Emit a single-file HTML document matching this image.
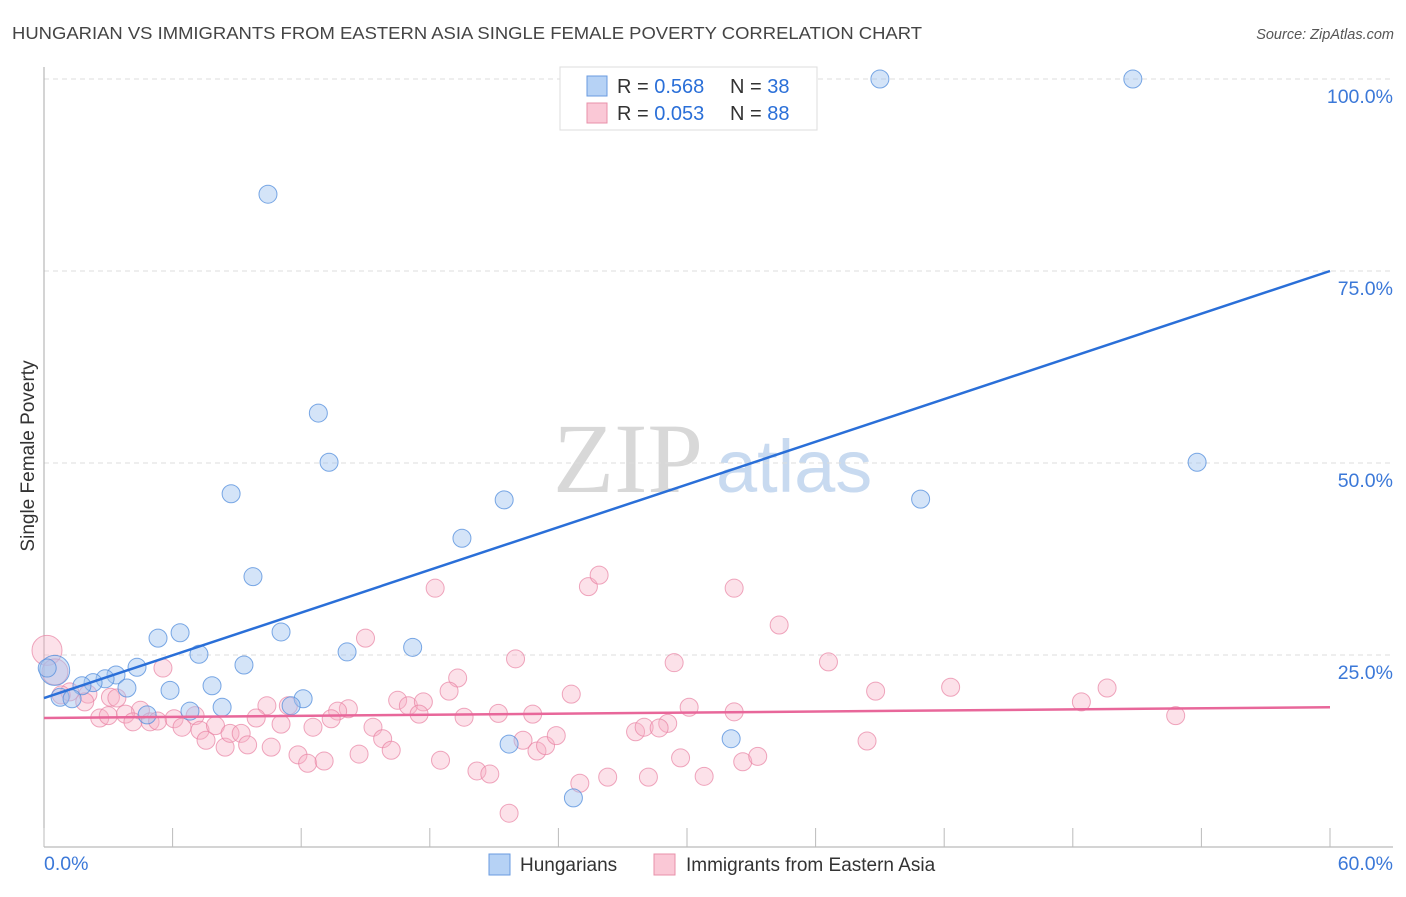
<!DOCTYPE html>
<html><head><meta charset="utf-8"><style>
body{margin:0;background:#fff;font-family:"Liberation Sans",sans-serif}
svg text{font-family:"Liberation Sans",sans-serif}
</style></head><body>
<svg id="chart" width="1406" height="892" viewBox="0 0 1406 892" xmlns="http://www.w3.org/2000/svg">
<text x="12" y="39" font-size="17.5" fill="#444" textLength="910" lengthAdjust="spacingAndGlyphs">HUNGARIAN VS IMMIGRANTS FROM EASTERN ASIA SINGLE FEMALE POVERTY CORRELATION CHART</text>
<text x="1394" y="39" font-size="14.5" fill="#555" text-anchor="end" font-style="italic">Source: ZipAtlas.com</text>
<g>
<text x="553" y="492" font-size="100" fill="#d8d8d8" style="font-family:'Liberation Serif',serif">ZIP</text>
<text x="716" y="492" font-size="74" fill="#c8daf0">atlas</text>
</g>
<g id="grid"></g>
<g id="axes"></g>
<g id="pink"></g>
<g id="blue"></g>
<g id="lines"></g>
<text transform="translate(34,456) rotate(-90)" font-size="19" fill="#333" text-anchor="middle">Single Female Poverty</text>
<g>
<rect x="560" y="67" width="257" height="63" fill="#fff" stroke="#ddd"/>
<rect x="587" y="76" width="20" height="20" fill="#b6d2f5" stroke="#6a9be0"/>
<rect x="587" y="103" width="20" height="20" fill="#fac8d6" stroke="#e890aa"/>
<text x="617" y="93" font-size="20" fill="#333">R = <tspan fill="#2a6fd8">0.568</tspan><tspan x="730">N = </tspan><tspan fill="#2a6fd8">38</tspan></text>
<text x="617" y="120" font-size="20" fill="#333">R = <tspan fill="#2a6fd8">0.053</tspan><tspan x="730">N = </tspan><tspan fill="#2a6fd8">88</tspan></text>
</g>
<g>
<rect x="489" y="854" width="21" height="21" fill="#b6d2f5" stroke="#6a9be0"/>
<text x="520" y="871" font-size="19" fill="#333">Hungarians</text>
<rect x="654" y="854" width="21" height="21" fill="#fac8d6" stroke="#e890aa"/>
<text x="686" y="871" font-size="19" fill="#333">Immigrants from Eastern Asia</text>
</g>
</svg>
<script>
const xTicks=[0,6,12,18,24,30,36,42,48,54,60];
const yTicks=[25,50,75,100];
const blueX=[39.0,50.8,10.45,12.8,13.3,53.8,8.73,21.47,40.9,19.5,9.75,5.32,6.35,11.06,7.23,14.14,17.2,9.33,4.34,3.36,2.85,2.29,1.77,3.87,5.88,7.84,0.75,1.31,12.09,11.53,6.81,8.31,4.81,21.7,32.06,24.7,0.5,0.15];
const blueY=[100,100,85.0,56.5,50.1,50.1,46.0,45.2,45.3,40.2,35.2,27.2,27.9,28.0,25.1,25.4,26.0,23.7,23.4,22.4,21.9,21.4,21.0,20.7,20.4,21.0,19.5,19.3,19.3,18.4,17.7,18.2,17.2,13.4,14.1,6.4,23.0,23.3];
const blueR=[8,8,8,8,8,8,8,8,8,8,8,8,8,8,8,8,8,8,8,8,8,8,8,8,8,8,8,8,8,8,8,8,8,8,8,8,14,8];
const pinkX=[0.14,0.51,18.25,25.4,25.9,32.2,34.3,5.55,15.0,22.0,29.4,36.6,19.3,18.9,24.6,42.3,38.8,49.6,48.4,52.8,11.4,10.4,14.2,13.7,16.5,17.0,17.7,17.5,19.6,21.2,22.8,30.1,32.2,29.1,27.6,28.0,28.7,1.2,2.05,3.1,1.9,3.4,4.5,2.6,3.0,3.8,4.15,4.95,5.3,6.07,6.44,7.05,7.28,7.56,8.0,8.45,8.68,9.2,9.5,9.9,10.6,11.06,11.85,12.3,12.55,13.07,13.4,14.7,15.35,15.8,16.2,18.5,20.2,20.8,21.7,22.35,23.0,23.4,23.9,25.0,26.3,28.2,29.7,30.8,32.6,33.3,38.4,0.8];
const pinkY=[25.6,22.8,33.7,33.9,35.4,33.7,28.9,23.3,27.2,24.5,24.0,24.1,22.0,20.3,19.9,20.8,20.3,20.7,18.9,17.1,18.4,18.4,18.0,17.7,19.1,18.4,18.9,17.3,16.9,17.4,17.3,18.2,17.6,16.1,15.0,15.6,15.5,20.2,19.9,19.5,18.9,19.4,17.8,16.8,17.1,17.3,16.3,16.3,16.4,16.7,15.6,17.1,15.2,13.9,15.8,13.0,14.8,14.8,13.3,16.8,13.0,16.0,12.0,10.9,15.6,11.2,16.7,12.1,15.6,14.1,12.6,11.3,9.9,9.5,4.4,13.9,12.5,13.2,14.5,8.3,9.1,9.1,11.6,9.2,11.1,11.8,13.8,19.8];
const pinkR=[14,12,8,8,8,8,8,8,8,8,8,8,8,8,8,8,8,8,8,8,8,8,8,8,8,8,8,8,8,8,8,8,8,8,8,8,8,8,8,8,8,8,8,8,8,8,8,8,8,8,8,8,8,8,8,8,8,8,8,8,8,8,8,8,8,8,8,8,8,8,8,8,8,8,8,8,8,8,8,8,8,8,8,8,8,8,8,8];
const trendStart=[19.4,16.8];
const trendEnd=[75.0,18.2];
const NS="http://www.w3.org/2000/svg";
const X0=44,X1=1330,Y0=847,Y100=79;
const sx=v=>X0+(v/60)*(X1-X0);
const sy=v=>Y0-(v/100)*(Y0-Y100);
function mk(tag,at,parent){const e=document.createElementNS(NS,tag);for(const k in at)e.setAttribute(k,at[k]);parent.appendChild(e);return e;}
const grid=document.getElementById('grid'),axes=document.getElementById('axes');
yTicks.forEach(t=>{
 const l=mk('line',{x1:X0,x2:1393,y1:sy(t),y2:sy(t),stroke:'#ddd','stroke-dasharray':'5,4'},grid);
 
 
 const tx=mk('text',{x:1393,y:sy(t)+24,'font-size':19.5,fill:'#3b78d8','text-anchor':'end'},axes);
 tx.textContent=t.toFixed(1)+'%';
 
 
});
mk('line',{x1:X0,x2:X0,y1:67,y2:Y0,stroke:'#aaa'},axes);
mk('line',{x1:X0,x2:1393,y1:Y0,y2:Y0,stroke:'#aaa'},axes);
xTicks.forEach(t=>{
 const l=mk('line',{x1:sx(t),x2:sx(t),y1:828,y2:Y0,stroke:'#bbb'},axes);
 
 
});
[[0,'start',44],[60,'end',1393]].forEach(([v,a,px])=>{
 const tx=mk('text',{x:px,y:870,'font-size':19.5,fill:'#3b78d8','text-anchor':a},axes);
 tx.textContent=v.toFixed(1)+'%';
 
 
});
const pg=document.getElementById('pink');
pinkX.forEach((x,i)=>{
 const c=mk('circle',{cx:sx(x),cy:sy(pinkY[i]),r:(pinkR[i]||8)+1,fill:'rgba(248,176,198,0.38)',stroke:'rgba(232,130,162,0.7)','stroke-width':1},pg);
 
 
});
const bg=document.getElementById('blue');
blueX.forEach((x,i)=>{
 const c=mk('circle',{cx:sx(x),cy:sy(blueY[i]),r:(blueR[i]||8)+1,fill:'rgba(160,196,240,0.45)',stroke:'rgba(80,140,220,0.75)','stroke-width':1},bg);
 
 
});
const lg=document.getElementById('lines');
const cols=['#2a6fd8','#e8679a'];
trendStart.forEach((s,i)=>{
 const l=mk('line',{x1:sx(0),y1:sy(s),x2:sx(60),y2:sy(trendEnd[i]),stroke:cols[i],'stroke-width':2.5},lg);
 
 
});
</script>
</body></html>
